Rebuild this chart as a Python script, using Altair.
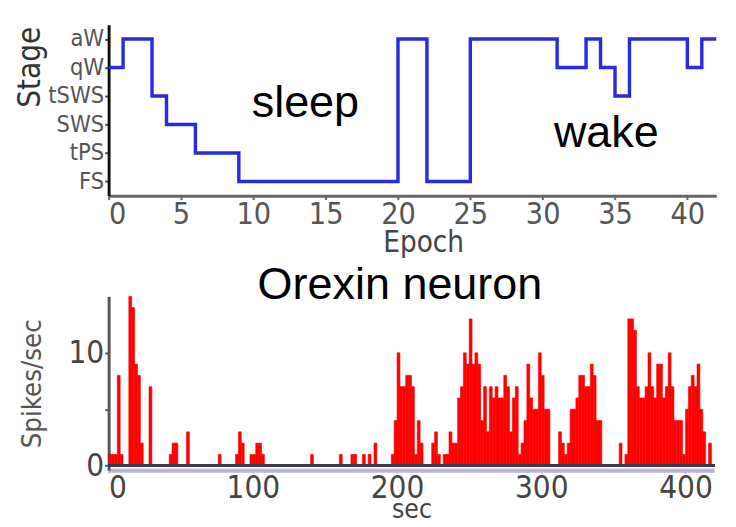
import altair as alt
import pandas as pd

# ---------------- top panel: hypnogram ----------------
stage_names = ["FS", "tPS", "SWS", "tSWS", "qW", "aW"]
epoch_start = [0, 1, 3, 4, 6, 9, 20, 22, 25, 31, 33, 34, 35, 36, 40, 41, 42]
epoch_stage = ["qW", "aW", "tSWS", "SWS", "tPS", "FS", "aW", "FS", "aW",
               "qW", "aW", "qW", "tSWS", "aW", "qW", "aW", "aW"]
epoch_ticks = [0, 5, 10, 15, 20, 25, 30, 35, 40]

note_text = ["sleep", "wake"]
note_epoch = [13.6, 34.4]
note_level = [3.25, 2.2]

# ---------------- bottom panel: orexin neuron firing ----------------
bin_width = 2
bin_start = [0, 2, 4, 6, 8, 14, 16, 18, 20, 22, 28, 42, 44, 46, 54, 76, 88, 90, 92, 98,
             100, 102, 104, 106, 140, 160, 168, 170, 176, 180, 184, 196, 198, 200, 202,
             204, 206, 208, 210, 212, 214, 216, 224, 226, 228, 232, 234, 236, 238, 240,
             242, 244, 246, 248, 250, 252, 254, 256, 258, 260, 262, 264, 266, 268, 270,
             272, 274, 276, 278, 280, 282, 284, 286, 288, 290, 292, 294, 296, 298, 300,
             302, 304, 312, 314, 316, 318, 320, 322, 324, 326, 328, 330, 332, 334, 336,
             338, 340, 354, 358, 360, 362, 364, 366, 368, 370, 372, 374, 376, 378, 380,
             382, 384, 386, 388, 390, 392, 394, 396, 398, 400, 402, 404, 406, 408, 410,
             412, 416]
bin_rate = [1, 1, 1, 8, 1, 15, 14, 9, 8, 2, 7, 1, 2, 2, 3, 1, 1, 3, 2, 1,
            1, 2, 2, 1, 1, 1, 1, 1, 1, 1, 2, 1, 4, 10, 7,
            7, 8, 8, 7, 1, 4, 2, 2, 3, 1, 1, 1, 3, 2, 2,
            6, 7, 10, 9, 13, 9, 10, 9, 4, 7, 3, 7, 6, 7, 6,
            6, 8, 7, 3, 6, 7, 1, 2, 4, 9, 6, 5, 5, 10, 8,
            5, 5, 3, 2, 1, 2, 5, 5, 6, 8, 8, 7, 7, 9, 8,
            4, 4, 2, 1, 13, 13, 12, 7, 6, 6, 7, 10, 7, 6, 9,
            9, 6, 7, 10, 7, 4, 4, 4, 1, 5, 7, 8, 7, 9, 5,
            3, 2]
sec_ticks = [0, 100, 200, 300, 400]
rate_ticks = [0, 5, 10]

title_text = ["Orexin neuron"]
title_sec = [202]
title_rate = [14.8]

NARROW = "Liberation Sans Narrow, DejaVu Sans Condensed, sans-serif"
SANS = "Liberation Sans, Arial, sans-serif"

hyp = pd.DataFrame({"epoch": epoch_start,
                    "level": [stage_names.index(s) + 1 for s in epoch_stage]})
notes = pd.DataFrame({"t": note_text, "epoch": note_epoch, "level": note_level})
bars = pd.DataFrame({"start": bin_start, "rate": bin_rate})
bars["end"] = bars["start"] + bin_width
ttl = pd.DataFrame({"t": title_text, "start": title_sec, "rate": title_rate})

label_expr = "[''," + ",".join("'%s'" % s for s in stage_names) + "][datum.value]"

x_top = alt.X("epoch:Q", scale=alt.Scale(domain=[0, 42], nice=False),
              axis=alt.Axis(values=epoch_ticks, title="Epoch", grid=False,
                            labelFont=NARROW, labelFontSize=31, labelColor="#555",
                            labelPadding=0, tickSize=4, tickColor="#666", tickWidth=2,
                            domainColor="#666", domainWidth=3, labelOverlap=False,
                            titleFont=NARROW, titleFontSize=30, titleFontWeight="normal",
                            titleColor="#444", titlePadding=-1, titleX=322))
y_top = alt.Y("level:Q", scale=alt.Scale(domain=[0.5, 6.5], nice=False),
              axis=alt.Axis(values=[1, 2, 3, 4, 5, 6], labelExpr=label_expr, grid=False,
                            title="Stage", labelFont=NARROW, labelFontSize=24,
                            labelColor="#555", labelPadding=1, tickSize=4,
                            labelOverlap=False, labelBound=False,
                            tickColor="#444", tickWidth=2, domainColor="#111",
                            domainWidth=3, titleFont=NARROW, titleFontSize=32,
                            titleFontWeight="normal", titleColor="#333",
                            titleX=-64, titleY=43, titleAngle=270,
                            titleBaseline="bottom", titleAlign="center"))

line = alt.Chart(hyp).mark_line(interpolate="step-after", color="#2a2ae0",
                                strokeWidth=3.5).encode(x=x_top, y=y_top)
note_layer = alt.Chart(notes).mark_text(font=SANS, fontSize=46, color="#000",
                                        baseline="alphabetic", align="center").encode(
    x=x_top, y=y_top, text="t:N")
top = alt.layer(line, note_layer).properties(width=622, height=175)

x_bot = alt.X("start:Q", scale=alt.Scale(domain=[0, 420], nice=False),
              axis=alt.Axis(values=sec_ticks, title="sec", grid=False,
                            labelFont=NARROW, labelFontSize=32, labelColor="#444",
                            labelPadding=0, tickSize=3, tickColor="#888",
                            labelOverlap=False,
                            domainColor="#b8b4dc", domainWidth=4,
                            titleFont=NARROW, titleFontSize=27, titleFontWeight="normal",
                            titleColor="#444", titlePadding=-7))
y_bot = alt.Y("rate:Q", scale=alt.Scale(domain=[-0.4, 15], nice=False),
              axis=alt.Axis(values=rate_ticks, grid=False, title="Spikes/sec",
                            labelExpr="datum.value == 5 ? '' : datum.label",
                            labelFont=NARROW, labelFontSize=32, labelColor="#444",
                            labelPadding=1, tickSize=4, tickColor="#555", tickWidth=2,
                            domainColor="#555", domainWidth=3, labelOverlap=False,
                            titleFont=NARROW, titleFontSize=28, titleFontWeight="normal",
                            titleColor="#555", titleX=-64, titleAngle=270,
                            titleBaseline="bottom", titleAlign="center"))

bar_layer = alt.Chart(bars).mark_bar(color="#ff0000", stroke="#ff0000",
                                     strokeWidth=0.6).encode(
    x=x_bot, x2="end:Q", y=y_bot, y2=alt.datum(0))
zero_layer = alt.Chart(bars).mark_rule(color="#3a3a50", strokeWidth=2).encode(
    y=alt.datum(0))
title_layer = alt.Chart(ttl).mark_text(font=SANS, fontSize=46, color="#000",
                                       baseline="alphabetic", align="center").encode(
    x=x_bot, y=y_bot, text="t:N")
bottom = alt.layer(bar_layer, zero_layer, title_layer).properties(width=620, height=178)

chart = alt.vconcat(top, bottom, spacing=103, bounds="flush").configure_view(
    stroke=None).configure_axis(labelOverlap=False).properties(
    padding={"left": 5, "top": 11, "right": 5, "bottom": 0}, background="white")

chart.save("out.html", embed_options={"renderer": "svg", "actions": False})
